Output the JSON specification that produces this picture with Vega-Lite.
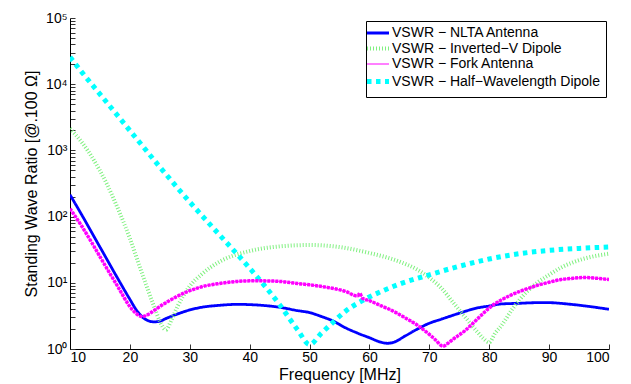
{
  "$schema": "https://vega.github.io/schema/vega-lite/v6.json",
  "width": 539,
  "height": 331,
  "autosize": "none",
  "padding": {"left": 70, "top": 18, "right": 22, "bottom": 35},
  "background": "white",
  "config": {
    "font": "Liberation Sans",
    "view": {"stroke": null},
    "axis": {"grid": false, "domainColor": "black", "domainWidth": 1, "tickColor": "#333333", "labelColor": "black", "titleColor": "black", "labelFont": "Liberation Sans", "titleFont": "Liberation Sans", "titleFontWeight": "normal", "labelFontSize": 14, "titleFontSize": 16}
  },
  "data": {"values": [
    {"s": "VSWR − NLTA Antenna", "f": 10, "v": 213.8},
    {"s": "VSWR − NLTA Antenna", "f": 12, "v": 104.7},
    {"s": "VSWR − NLTA Antenna", "f": 14, "v": 50.1},
    {"s": "VSWR − NLTA Antenna", "f": 16, "v": 24.0},
    {"s": "VSWR − NLTA Antenna", "f": 18, "v": 11.5},
    {"s": "VSWR − NLTA Antenna", "f": 20, "v": 5.62},
    {"s": "VSWR − NLTA Antenna", "f": 21, "v": 3.98},
    {"s": "VSWR − NLTA Antenna", "f": 22, "v": 3.09},
    {"s": "VSWR − NLTA Antenna", "f": 23, "v": 2.69},
    {"s": "VSWR − NLTA Antenna", "f": 24, "v": 2.57},
    {"s": "VSWR − NLTA Antenna", "f": 25, "v": 2.63},
    {"s": "VSWR − NLTA Antenna", "f": 26, "v": 2.88},
    {"s": "VSWR − NLTA Antenna", "f": 28, "v": 3.39},
    {"s": "VSWR − NLTA Antenna", "f": 30, "v": 3.89},
    {"s": "VSWR − NLTA Antenna", "f": 32, "v": 4.27},
    {"s": "VSWR − NLTA Antenna", "f": 35, "v": 4.57},
    {"s": "VSWR − NLTA Antenna", "f": 38, "v": 4.73},
    {"s": "VSWR − NLTA Antenna", "f": 40, "v": 4.68},
    {"s": "VSWR − NLTA Antenna", "f": 42, "v": 4.57},
    {"s": "VSWR − NLTA Antenna", "f": 45, "v": 4.27},
    {"s": "VSWR − NLTA Antenna", "f": 48, "v": 3.80},
    {"s": "VSWR − NLTA Antenna", "f": 50, "v": 3.55},
    {"s": "VSWR − NLTA Antenna", "f": 52, "v": 3.09},
    {"s": "VSWR − NLTA Antenna", "f": 54, "v": 2.63},
    {"s": "VSWR − NLTA Antenna", "f": 56, "v": 2.09},
    {"s": "VSWR − NLTA Antenna", "f": 58, "v": 1.74},
    {"s": "VSWR − NLTA Antenna", "f": 60, "v": 1.48},
    {"s": "VSWR − NLTA Antenna", "f": 62, "v": 1.26},
    {"s": "VSWR − NLTA Antenna", "f": 63, "v": 1.22},
    {"s": "VSWR − NLTA Antenna", "f": 64, "v": 1.26},
    {"s": "VSWR − NLTA Antenna", "f": 66, "v": 1.58},
    {"s": "VSWR − NLTA Antenna", "f": 68, "v": 2.00},
    {"s": "VSWR − NLTA Antenna", "f": 70, "v": 2.45},
    {"s": "VSWR − NLTA Antenna", "f": 72, "v": 2.82},
    {"s": "VSWR − NLTA Antenna", "f": 75, "v": 3.47},
    {"s": "VSWR − NLTA Antenna", "f": 78, "v": 4.17},
    {"s": "VSWR − NLTA Antenna", "f": 80, "v": 4.47},
    {"s": "VSWR − NLTA Antenna", "f": 82, "v": 4.79},
    {"s": "VSWR − NLTA Antenna", "f": 85, "v": 4.90},
    {"s": "VSWR − NLTA Antenna", "f": 88, "v": 5.01},
    {"s": "VSWR − NLTA Antenna", "f": 90, "v": 5.01},
    {"s": "VSWR − NLTA Antenna", "f": 93, "v": 4.79},
    {"s": "VSWR − NLTA Antenna", "f": 96, "v": 4.47},
    {"s": "VSWR − NLTA Antenna", "f": 100, "v": 3.98},

    {"s": "VSWR − Inverted−V Dipole", "f": 10, "v": 2138},
    {"s": "VSWR − Inverted−V Dipole", "f": 12, "v": 1318},
    {"s": "VSWR − Inverted−V Dipole", "f": 14, "v": 708},
    {"s": "VSWR − Inverted−V Dipole", "f": 16, "v": 331},
    {"s": "VSWR − Inverted−V Dipole", "f": 18, "v": 132},
    {"s": "VSWR − Inverted−V Dipole", "f": 20, "v": 46.8},
    {"s": "VSWR − Inverted−V Dipole", "f": 22, "v": 14.1},
    {"s": "VSWR − Inverted−V Dipole", "f": 24, "v": 4.47},
    {"s": "VSWR − Inverted−V Dipole", "f": 25, "v": 2.63},
    {"s": "VSWR − Inverted−V Dipole", "f": 26, "v": 1.95},
    {"s": "VSWR − Inverted−V Dipole", "f": 27, "v": 2.82},
    {"s": "VSWR − Inverted−V Dipole", "f": 28, "v": 4.47},
    {"s": "VSWR − Inverted−V Dipole", "f": 30, "v": 8.91},
    {"s": "VSWR − Inverted−V Dipole", "f": 32, "v": 13.5},
    {"s": "VSWR − Inverted−V Dipole", "f": 35, "v": 20.9},
    {"s": "VSWR − Inverted−V Dipole", "f": 40, "v": 30.2},
    {"s": "VSWR − Inverted−V Dipole", "f": 45, "v": 35.5},
    {"s": "VSWR − Inverted−V Dipole", "f": 50, "v": 37.2},
    {"s": "VSWR − Inverted−V Dipole", "f": 55, "v": 34.7},
    {"s": "VSWR − Inverted−V Dipole", "f": 60, "v": 28.2},
    {"s": "VSWR − Inverted−V Dipole", "f": 65, "v": 20.9},
    {"s": "VSWR − Inverted−V Dipole", "f": 68, "v": 15.8},
    {"s": "VSWR − Inverted−V Dipole", "f": 70, "v": 12.0},
    {"s": "VSWR − Inverted−V Dipole", "f": 72, "v": 8.32},
    {"s": "VSWR − Inverted−V Dipole", "f": 74, "v": 5.01},
    {"s": "VSWR − Inverted−V Dipole", "f": 76, "v": 3.02},
    {"s": "VSWR − Inverted−V Dipole", "f": 78, "v": 1.82},
    {"s": "VSWR − Inverted−V Dipole", "f": 79, "v": 1.45},
    {"s": "VSWR − Inverted−V Dipole", "f": 80, "v": 1.26},
    {"s": "VSWR − Inverted−V Dipole", "f": 81, "v": 1.74},
    {"s": "VSWR − Inverted−V Dipole", "f": 82, "v": 2.24},
    {"s": "VSWR − Inverted−V Dipole", "f": 84, "v": 4.17},
    {"s": "VSWR − Inverted−V Dipole", "f": 86, "v": 6.92},
    {"s": "VSWR − Inverted−V Dipole", "f": 88, "v": 10.0},
    {"s": "VSWR − Inverted−V Dipole", "f": 90, "v": 13.2},
    {"s": "VSWR − Inverted−V Dipole", "f": 92, "v": 17.0},
    {"s": "VSWR − Inverted−V Dipole", "f": 94, "v": 20.4},
    {"s": "VSWR − Inverted−V Dipole", "f": 96, "v": 23.4},
    {"s": "VSWR − Inverted−V Dipole", "f": 98, "v": 25.7},
    {"s": "VSWR − Inverted−V Dipole", "f": 100, "v": 27.5},

    {"s": "VSWR − Fork Antenna", "f": 10, "v": 131.8},
    {"s": "VSWR − Fork Antenna", "f": 12, "v": 70.8},
    {"s": "VSWR − Fork Antenna", "f": 14, "v": 35.5},
    {"s": "VSWR − Fork Antenna", "f": 16, "v": 17.4},
    {"s": "VSWR − Fork Antenna", "f": 18, "v": 8.71},
    {"s": "VSWR − Fork Antenna", "f": 20, "v": 4.37},
    {"s": "VSWR − Fork Antenna", "f": 21, "v": 3.47},
    {"s": "VSWR − Fork Antenna", "f": 22, "v": 3.09},
    {"s": "VSWR − Fork Antenna", "f": 23, "v": 3.31},
    {"s": "VSWR − Fork Antenna", "f": 24, "v": 3.80},
    {"s": "VSWR − Fork Antenna", "f": 26, "v": 5.01},
    {"s": "VSWR − Fork Antenna", "f": 28, "v": 6.31},
    {"s": "VSWR − Fork Antenna", "f": 30, "v": 7.59},
    {"s": "VSWR − Fork Antenna", "f": 32, "v": 8.71},
    {"s": "VSWR − Fork Antenna", "f": 35, "v": 9.77},
    {"s": "VSWR − Fork Antenna", "f": 38, "v": 10.5},
    {"s": "VSWR − Fork Antenna", "f": 40, "v": 10.7},
    {"s": "VSWR − Fork Antenna", "f": 42, "v": 10.7},
    {"s": "VSWR − Fork Antenna", "f": 45, "v": 10.5},
    {"s": "VSWR − Fork Antenna", "f": 48, "v": 9.77},
    {"s": "VSWR − Fork Antenna", "f": 50, "v": 9.33},
    {"s": "VSWR − Fork Antenna", "f": 53, "v": 8.51},
    {"s": "VSWR − Fork Antenna", "f": 56, "v": 7.41},
    {"s": "VSWR − Fork Antenna", "f": 58, "v": 6.31},
    {"s": "VSWR − Fork Antenna", "f": 58.4, "v": 6.92},
    {"s": "VSWR − Fork Antenna", "f": 58.8, "v": 5.89},
    {"s": "VSWR − Fork Antenna", "f": 60, "v": 5.37},
    {"s": "VSWR − Fork Antenna", "f": 62, "v": 4.47},
    {"s": "VSWR − Fork Antenna", "f": 64, "v": 3.72},
    {"s": "VSWR − Fork Antenna", "f": 66, "v": 2.95},
    {"s": "VSWR − Fork Antenna", "f": 68, "v": 2.29},
    {"s": "VSWR − Fork Antenna", "f": 70, "v": 1.66},
    {"s": "VSWR − Fork Antenna", "f": 71, "v": 1.38},
    {"s": "VSWR − Fork Antenna", "f": 72.3, "v": 1.10},
    {"s": "VSWR − Fork Antenna", "f": 73, "v": 1.20},
    {"s": "VSWR − Fork Antenna", "f": 74, "v": 1.41},
    {"s": "VSWR − Fork Antenna", "f": 76, "v": 1.91},
    {"s": "VSWR − Fork Antenna", "f": 78, "v": 2.82},
    {"s": "VSWR − Fork Antenna", "f": 80, "v": 4.17},
    {"s": "VSWR − Fork Antenna", "f": 82, "v": 5.50},
    {"s": "VSWR − Fork Antenna", "f": 84, "v": 6.76},
    {"s": "VSWR − Fork Antenna", "f": 86, "v": 7.94},
    {"s": "VSWR − Fork Antenna", "f": 88, "v": 9.12},
    {"s": "VSWR − Fork Antenna", "f": 90, "v": 10.2},
    {"s": "VSWR − Fork Antenna", "f": 92, "v": 11.2},
    {"s": "VSWR − Fork Antenna", "f": 94, "v": 11.7},
    {"s": "VSWR − Fork Antenna", "f": 96, "v": 12.0},
    {"s": "VSWR − Fork Antenna", "f": 98, "v": 11.7},
    {"s": "VSWR − Fork Antenna", "f": 100, "v": 11.2},

    {"s": "VSWR − Half−Wavelength Dipole", "f": 10, "v": 25700},
    {"s": "VSWR − Half−Wavelength Dipole", "f": 12, "v": 15100},
    {"s": "VSWR − Half−Wavelength Dipole", "f": 15, "v": 7080},
    {"s": "VSWR − Half−Wavelength Dipole", "f": 20, "v": 1995},
    {"s": "VSWR − Half−Wavelength Dipole", "f": 25, "v": 562},
    {"s": "VSWR − Half−Wavelength Dipole", "f": 30, "v": 166},
    {"s": "VSWR − Half−Wavelength Dipole", "f": 35, "v": 52.5},
    {"s": "VSWR − Half−Wavelength Dipole", "f": 40, "v": 16.6},
    {"s": "VSWR − Half−Wavelength Dipole", "f": 45, "v": 4.68},
    {"s": "VSWR − Half−Wavelength Dipole", "f": 48, "v": 1.95},
    {"s": "VSWR − Half−Wavelength Dipole", "f": 50, "v": 1.17},
    {"s": "VSWR − Half−Wavelength Dipole", "f": 52, "v": 1.74},
    {"s": "VSWR − Half−Wavelength Dipole", "f": 54, "v": 2.57},
    {"s": "VSWR − Half−Wavelength Dipole", "f": 56, "v": 3.72},
    {"s": "VSWR − Half−Wavelength Dipole", "f": 59, "v": 5.50},
    {"s": "VSWR − Half−Wavelength Dipole", "f": 62, "v": 7.41},
    {"s": "VSWR − Half−Wavelength Dipole", "f": 65, "v": 9.55},
    {"s": "VSWR − Half−Wavelength Dipole", "f": 70, "v": 13.2},
    {"s": "VSWR − Half−Wavelength Dipole", "f": 75, "v": 17.8},
    {"s": "VSWR − Half−Wavelength Dipole", "f": 80, "v": 22.9},
    {"s": "VSWR − Half−Wavelength Dipole", "f": 85, "v": 27.5},
    {"s": "VSWR − Half−Wavelength Dipole", "f": 90, "v": 30.9},
    {"s": "VSWR − Half−Wavelength Dipole", "f": 95, "v": 33.1},
    {"s": "VSWR − Half−Wavelength Dipole", "f": 100, "v": 34.7}
  ]},
  "encoding": {
    "x": {"field": "f", "type": "quantitative",
      "scale": {"domain": [10, 100], "nice": false, "zero": false},
      "axis": {"values": [10, 20, 30, 40, 50, 60, 70, 80, 90, 100], "tickSize": -5, "labelPadding": 6, "title": "Frequency [MHz]", "titlePadding": 2}},
    "y": {"field": "v", "type": "quantitative",
      "scale": {"type": "log", "domain": [1, 100000], "nice": false},
      "axis": {"values": [1,2,3,4,5,6,7,8,9,10,20,30,40,50,60,70,80,90,100,200,300,400,500,600,700,800,900,1000,2000,3000,4000,5000,6000,7000,8000,9000,10000,20000,30000,40000,50000,60000,70000,80000,90000,100000],
        "labelExpr": "datum.value == 1 ? '10⁰' : datum.value == 10 ? '10¹' : datum.value == 100 ? '10²' : datum.value == 1000 ? '10³' : datum.value == 10000 ? '10⁴' : datum.value == 100000 ? '10⁵' : ''",
        "tickSize": -5, "labelPadding": 8, "labelOverlap": false, "labelBound": false,
        "title": "Standing Wave Ratio [@.100 Ω]", "titlePadding": 6}}
  },
  "layer": [
    {
      "mark": {"type": "line", "interpolate": "monotone", "strokeCap": "butt", "clip": true,
        "strokeWidth": {"expr": "datum.s == 'VSWR − Fork Antenna' ? 1 : datum.s == 'VSWR − Half−Wavelength Dipole' ? 5 : datum.s == 'VSWR − Inverted−V Dipole' ? 4 : 2.8"}},
      "encoding": {
        "color": {"field": "s", "type": "nominal",
          "scale": {"domain": ["VSWR − NLTA Antenna", "VSWR − Inverted−V Dipole", "VSWR − Fork Antenna", "VSWR − Half−Wavelength Dipole"],
                    "range": ["#0000ff", "#80f080", "#ff00ff", "#00ffff"]},
          "legend": {"title": null, "orient": "top-right", "offset": 3, "padding": 5, "strokeColor": "black", "fillColor": "white", "labelFontSize": 14, "labelFont": "Liberation Sans", "labelColor": "black", "labelLimit": 0, "symbolType": "stroke", "symbolSize": 484, "rowPadding": 0.5, "labelOffset": 7, "cornerRadius": 0,
            "encode": {"symbols": {"update": {"strokeWidth": {"signal": "datum.value == 'VSWR − Fork Antenna' ? 1 : datum.value == 'VSWR − Half−Wavelength Dipole' ? 5 : datum.value == 'VSWR − Inverted−V Dipole' ? 4 : 2.8"}}}}}},
        "strokeDash": {"field": "s", "type": "nominal",
          "scale": {"domain": ["VSWR − NLTA Antenna", "VSWR − Inverted−V Dipole", "VSWR − Fork Antenna", "VSWR − Half−Wavelength Dipole"],
                    "range": [[1, 0], [1, 2], [1, 0], [4.5, 4.5]]}}
      }
    },
    {
      "transform": [{"filter": "datum.s == 'VSWR − Fork Antenna'"}],
      "mark": {"type": "line", "interpolate": "monotone", "strokeCap": "butt", "color": "#ff00ff", "strokeWidth": 3.5, "strokeDash": [3, 1], "clip": true},
      "encoding": {}
    }
  ]
}
